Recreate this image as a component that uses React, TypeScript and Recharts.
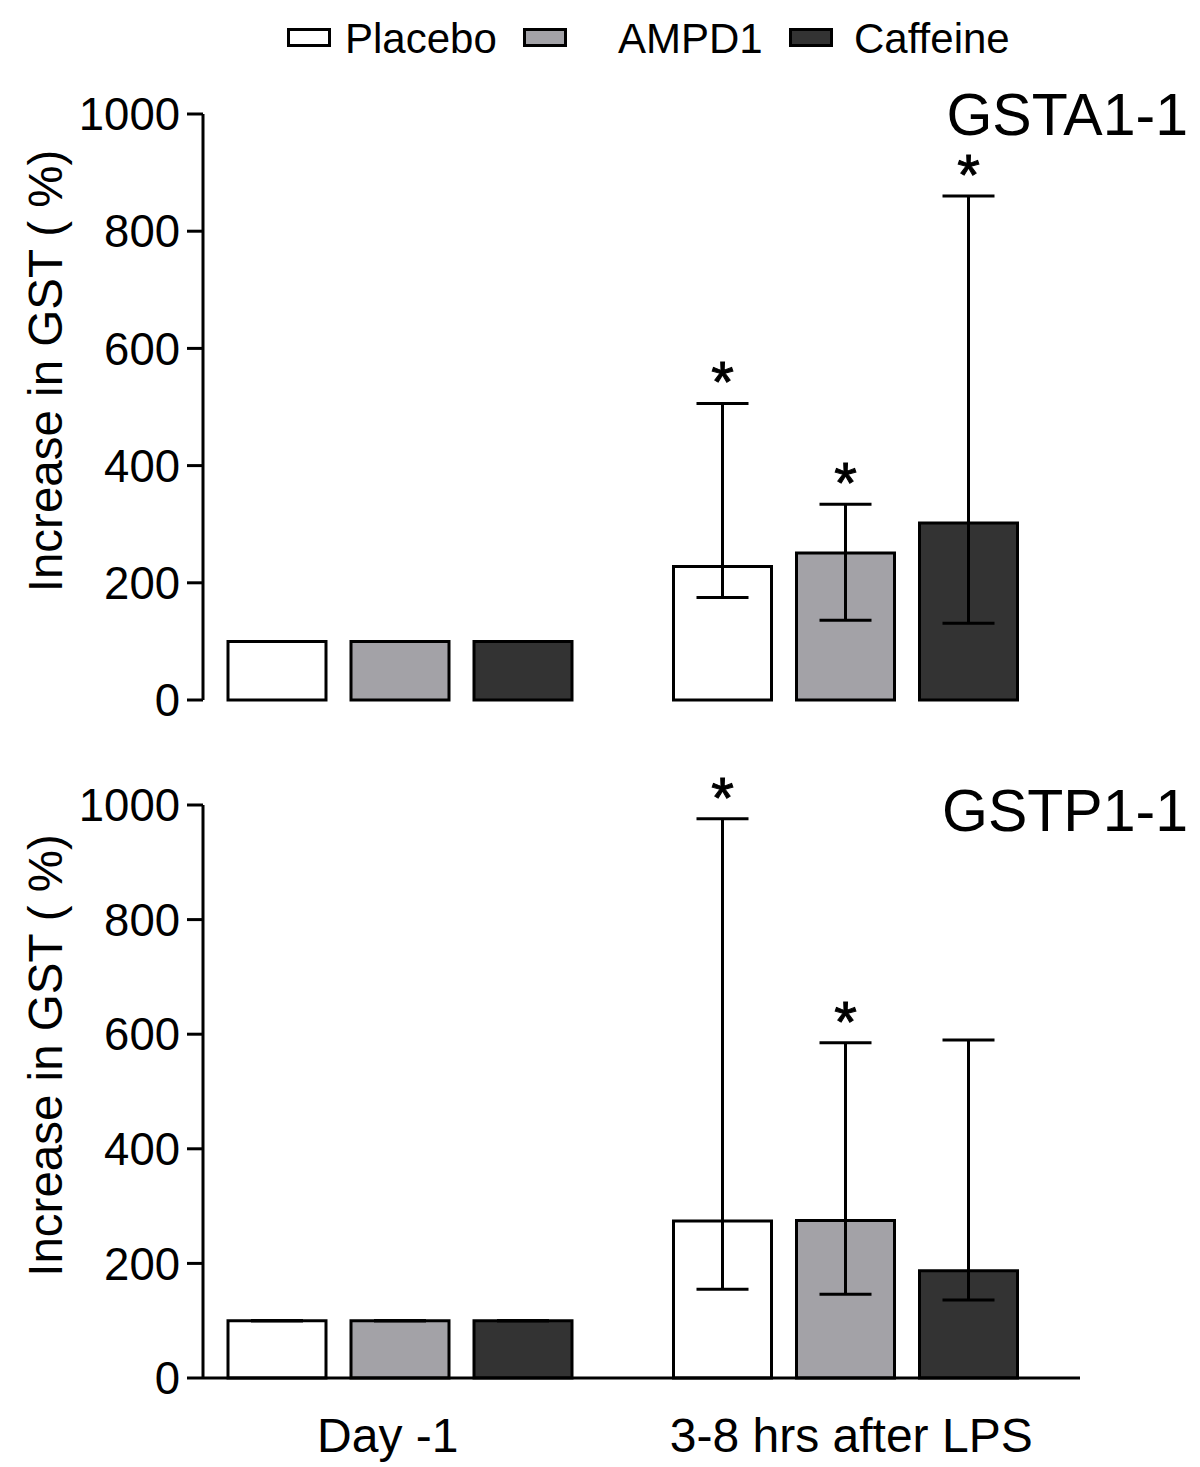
import React from 'react';
import { BarChart, Bar, XAxis, YAxis, ErrorBar, LabelList } from 'recharts';

const categories = ['Day -1', '3-8 hrs after LPS'];
const seriesNames = ['Placebo', 'AMPD1', 'Caffeine'];
const yTicks = [0, 200, 400, 600, 800, 1000];

// GSTA1-1 panel: mean, lower end and upper end of the error bar
const gstaPlacebo = [100, 228];
const gstaPlaceboLow = [100, 175];
const gstaPlaceboHigh = [100, 506];
const gstaAmpd1 = [100, 251];
const gstaAmpd1Low = [100, 136];
const gstaAmpd1High = [100, 334];
const gstaCaffeine = [100, 302];
const gstaCaffeineLow = [100, 131];
const gstaCaffeineHigh = [100, 860];
const gstaPlaceboSig = [false, true];
const gstaAmpd1Sig = [false, true];
const gstaCaffeineSig = [false, true];

// GSTP1-1 panel
const gstpPlacebo = [100, 274];
const gstpPlaceboLow = [100, 155];
const gstpPlaceboHigh = [100, 976];
const gstpAmpd1 = [100, 275];
const gstpAmpd1Low = [100, 146];
const gstpAmpd1High = [100, 585];
const gstpCaffeine = [100, 187];
const gstpCaffeineLow = [100, 136];
const gstpCaffeineHigh = [100, 590];
const gstpPlaceboSig = [false, true];
const gstpAmpd1Sig = [false, true];
const gstpCaffeineSig = [false, false];

const FONT = '"Liberation Sans", Arial, sans-serif';
const fills = ['#ffffff', '#a3a2a7', '#333333'];
const keys = ['placebo', 'ampd1', 'caffeine'];
// small horizontal nudges of the category labels, as in the original figure
const tickShift = [-12, 6];

type Series = { mean: number[]; low: number[]; high: number[]; sig: boolean[] };

function buildRows(list: Series[]) {
    return categories.map((cat, i) => {
        const row: any = { cat };
        list.forEach((s, k) => {
            row[keys[k]] = s.mean[i];
            row[keys[k] + 'Err'] = [s.mean[i] - s.low[i], s.high[i] - s.mean[i]];
        });
        return row;
    });
}

const gstaSeries: Series[] = [
    { mean: gstaPlacebo, low: gstaPlaceboLow, high: gstaPlaceboHigh, sig: gstaPlaceboSig },
    { mean: gstaAmpd1, low: gstaAmpd1Low, high: gstaAmpd1High, sig: gstaAmpd1Sig },
    { mean: gstaCaffeine, low: gstaCaffeineLow, high: gstaCaffeineHigh, sig: gstaCaffeineSig },
];
const gstpSeries: Series[] = [
    { mean: gstpPlacebo, low: gstpPlaceboLow, high: gstpPlaceboHigh, sig: gstpPlaceboSig },
    { mean: gstpAmpd1, low: gstpAmpd1Low, high: gstpAmpd1High, sig: gstpAmpd1Sig },
    { mean: gstpCaffeine, low: gstpCaffeineLow, high: gstpCaffeineHigh, sig: gstpCaffeineSig },
];

// asterisk above the upper error bar, placed with the bar's own pixel scale
function starLabel(s: Series) {
    return (props: any) => {
        const i = props.index;
        if (i == null || !s.sig[i]) return null;
        const vb = props.viewBox || props;
        const { x, y, width, height } = vb;
        const mean = s.mean[i];
        const ppu = Math.abs(height) / mean;
        const top = Math.min(y, y + height) - (s.high[i] - mean) * ppu;
        return (
            <text x={x + width / 2} y={top - 1} textAnchor="middle" fontSize={58} fontFamily={FONT}
                fill="#000" stroke="#000" strokeWidth={1}>
                *
            </text>
        );
    };
}

function YLabel(props: any) {
    const vb = props.viewBox;
    const cx = 45;
    const cy = vb.y + vb.height / 2 - 36;
    return (
        <text x={cx} y={cy} transform={`rotate(-90 ${cx} ${cy})`} textAnchor="middle" dominantBaseline="central"
            fontSize={47.5} fontFamily={FONT} fill="#000">
            Increase in GST ( %)
        </text>
    );
}

function CatTick(props: any) {
    const { x, y, payload, index } = props;
    return (
        <text x={x + (tickShift[index] || 0)} y={y} dy="0.71em" textAnchor="middle"
            fontSize={48} fontFamily={FONT} fill="#000">
            {payload.value}
        </text>
    );
}

function Panel({ series, height, marginTop, marginBottom, xAxisHeight, showTicks }: {
    series: Series[]; height: number; marginTop: number; marginBottom: number; xAxisHeight: number; showTicks: boolean;
}) {
    const data = buildRows(series);
    return (
        <BarChart width={1200} height={height} data={data} barSize={98} barGap={25}
            margin={{ top: marginTop, right: 120, bottom: marginBottom, left: 0 }}>
            <XAxis dataKey="cat" height={xAxisHeight} padding={{ left: -26, right: 12 }}
                axisLine={{ stroke: '#000', strokeWidth: 3 }} tickLine={false}
                tick={showTicks ? <CatTick /> : false}
                tickMargin={34} interval={0} />
            <YAxis width={203} domain={[0, 1000]} ticks={yTicks} interval={0}
                axisLine={{ stroke: '#000', strokeWidth: 3 }} tickLine={{ stroke: '#000', strokeWidth: 3 }}
                tickSize={16} tickMargin={7}
                tick={{ fill: '#000', fontSize: 45.5, fontFamily: FONT }}
                label={<YLabel />} />
            {series.map((s, k) => (
                <Bar key={keys[k]} dataKey={keys[k]} name={seriesNames[k]} fill={fills[k]}
                    stroke="#000" strokeWidth={3} isAnimationActive={false}>
                    <ErrorBar dataKey={keys[k] + 'Err'} direction="y" width={26} stroke="#000" strokeWidth={3} />
                    <LabelList dataKey={keys[k]} content={starLabel(s)} />
                </Bar>
            ))}
        </BarChart>
    );
}

const legendItems = [
    { box: 287, text: 345 },
    { box: 523, text: 618 },
    { box: 789, text: 854 },
];

export default function App() {
    return (
        <div style={{ position: 'absolute', left: 0, top: 0, width: 1200, height: 1467, background: '#fff', fontFamily: FONT }}>
            {seriesNames.map((n, k) => (
                <React.Fragment key={n}>
                    <div style={{
                        position: 'absolute', left: legendItems[k].box, top: 28, width: 38, height: 13,
                        border: '3px solid #000', background: fills[k],
                    }} />
                    <div style={{ position: 'absolute', left: legendItems[k].text, top: 18, fontSize: 42, lineHeight: 1, whiteSpace: 'nowrap' }}>
                        {n}
                    </div>
                </React.Fragment>
            ))}
            <div style={{ position: 'absolute', left: 0, top: 0 }}>
                <Panel series={gstaSeries} height={740} marginTop={114} marginBottom={40} xAxisHeight={0} showTicks={false} />
            </div>
            <div style={{ position: 'absolute', left: 0, top: 740 }}>
                <Panel series={gstpSeries} height={727} marginTop={65} marginBottom={0} xAxisHeight={89} showTicks={true} />
            </div>
            <div style={{ position: 'absolute', right: 12, top: 86, fontSize: 59, lineHeight: 1 }}>GSTA1-1</div>
            <div style={{ position: 'absolute', right: 12, top: 782, fontSize: 59, lineHeight: 1 }}>GSTP1-1</div>
        </div>
    );
}
